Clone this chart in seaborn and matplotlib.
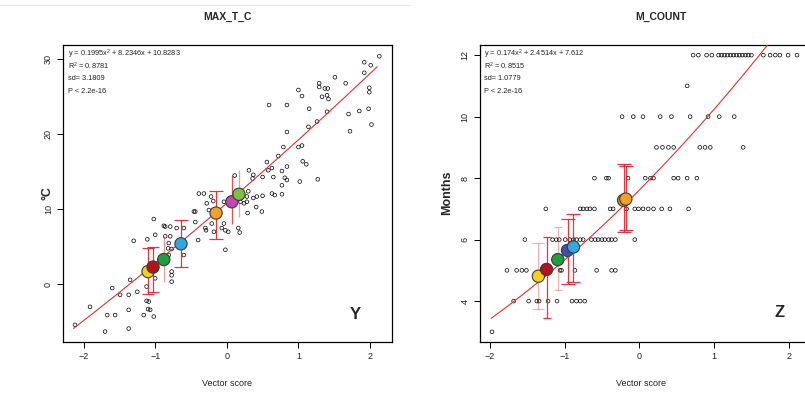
import numpy as np
import pandas as pd
import matplotlib
matplotlib.use("Agg")
import matplotlib.pyplot as plt
from matplotlib.lines import Line2D
import seaborn as sns

# ---------------- data: MAX_T_C panel ----------------
maxt_x = [-2.12, -1.70, -1.91, -1.37, -1.67, -1.56, -1.37, -1.16, -1.02, -1.07,
          -1.60, -1.49, -1.37, -1.35, -1.25, -1.09, -1.00, -0.77, -0.77, -1.02,
          -1.30, -1.11, -0.88, -0.86, -0.79, -0.70, -0.81, -0.77, -0.81, -0.44,
          -0.40, -0.60, -0.60, -0.02, -0.39, -0.32, -0.28, -0.25, -0.46, -0.44,
          -0.04, -0.07, -0.02, -0.18, -0.30, -0.22, -0.19, -0.29, -0.21, 0.02,
          -1.12, -1.12, -1.10, -1.00, -0.86, -0.79, -0.82, -0.77,
          2.13, 1.92, 2.01, 1.92, 1.51, 1.66, 1.29, 1.29, 1.37, 1.41,
          1.00, 1.99, 1.99, 1.05, 1.33, 1.40, 1.42, 0.59, 0.84, 1.15,
          1.40, 1.70, 1.85, 1.98, 1.26, 1.14, 2.02, 1.72, 0.84, 0.79,
          1.00, 1.05, 0.72, 0.56, 0.63, 0.58, 1.06, 1.11, 0.84, 0.77,
          0.50, 0.37, 0.36, 0.31, 0.65, 0.81, 0.84, 1.02, 1.27, 0.77,
          0.63, 0.67, 0.77, 0.50, 0.42, 0.37, 0.30, 0.28, 0.28, 0.41,
          0.49, 0.29, 0.11, 0.19, 0.24, -0.04, 0.16, 0.18]
maxt_y = [-5.4, -6.3, -3.0, -5.9, -4.1, -4.1, -3.4, -4.1, -4.3, -3.4,
          -0.5, -1.4, -1.4, 0.6, -1.0, -2.3, 0.8, 1.2, 0.35, 8.7,
          5.8, 6.0, 7.8, 6.4, 6.4, 7.5, 5.5, 4.7, 3.9, 8.3,
          5.9, 7.5, 3.9, 4.6, 12.1, 12.1, 10.8, 9.9, 9.7, 9.7,
          11.0, 7.5, 7.2, 7.0, 7.5, 11.7, 11.1, 7.2, 8.1, 7.0,
          -0.3, -2.2, -3.3, 6.6, 7.7, 7.7, 4.8, 1.7,
          30.4, 29.6, 29.2, 28.2, 27.6, 26.8, 26.8, 26.3, 26.1, 26.1,
          25.9, 26.2, 25.6, 25.1, 25.0, 25.2, 24.7, 23.9, 23.9, 23.4,
          23.0, 22.7, 23.1, 23.4, 21.7, 21.0, 21.3, 20.4, 20.3, 18.3,
          18.3, 18.5, 17.1, 16.3, 15.5, 15.2, 16.4, 16.0, 15.7, 15.1,
          14.3, 14.6, 14.1, 15.2, 14.3, 14.2, 13.9, 13.7, 14.0, 13.2,
          12.1, 11.9, 12.0, 11.8, 11.7, 11.5, 12.4, 11.7, 11.0, 10.3,
          9.7, 9.5, 14.5, 11.0, 10.8, 8.1, 7.5, 6.9]

maxt_coef = [0.1995, 8.2346, 10.8283]
maxt_fit_range = [-2.14, 2.10]

maxt_grp_x = [-1.10, -1.03, -0.88, -0.64, -0.15, 0.07, 0.17]
maxt_grp_y = [1.7, 2.3, 3.3, 5.4, 9.5, 11.0, 12.0]
maxt_err_lo = [-1.3, -1.0, 0.3, 2.3, 6.1, 8.0, 9.0]
maxt_err_hi = [4.8, 5.0, 6.4, 8.6, 12.4, 14.6, 15.2]
maxt_grp_colors = ["#F7D117", "#B5121B", "#1E9E3E", "#2FA8E0", "#F2A127", "#C048B5", "#7CC242"]

# ---------------- data: M_COUNT panel ----------------
mcount_x = [0.72, 0.79, 0.90, 0.97, 1.06, 1.10, 1.14, 1.18, 1.22, 1.26, 1.30, 1.34,
            1.38, 1.42, 1.46, 1.50, 1.66, 1.75, 1.82, 1.88, 1.99, 2.11,
            0.64,
            -0.23, -0.08, 0.05, 0.28, 0.43, 0.68, 0.92, 1.07, 1.27,
            0.23, 0.31, 0.39, 0.46, 0.81, 0.88, 0.95, 1.39,
            -0.60, -0.44, -0.41, -0.15, 0.08, 0.15, 0.19, 0.46, 0.52, 0.64, 0.77,
            -1.25, -0.79, -0.75, -0.70, -0.66, -0.60, -0.39, -0.35, -0.17, -0.06,
            -0.01, 0.05, 0.12, 0.19, 0.30, 0.41, 0.66,
            -1.53, -1.16, -1.11, -1.07, -0.99, -0.93, -0.88, -0.84, -0.79, -0.75,
            -0.64, -0.59, -0.55, -0.50, -0.46, -0.41, -0.37, -0.32, -0.06,
            -1.77, -1.64, -1.57, -1.51, -1.06, -1.04, -0.86, -0.57, -0.37, -0.32,
            -1.68, -1.48, -1.37, -1.34, -1.22, -1.10, -0.90, -0.84, -0.79, -0.73,
            -1.97]
mcount_y = ([12] * 22 + [11] + [10] * 9 + [9] * 8 + [8] * 11 + [7] * 17
            + [6] * 19 + [5] * 10 + [4] * 10 + [3])

mcount_coef = [0.174, 2.4514, 7.612]
mcount_fit_range = [-1.98, 1.80]

mcount_grp_x = [-1.35, -1.24, -1.09, -0.96, -0.88, -0.21, -0.18]
mcount_grp_y = [4.81, 5.03, 5.35, 5.65, 5.76, 7.28, 7.32]
mcount_err_lo = [3.75, 3.45, 4.35, 4.57, 4.62, 6.25, 6.30]
mcount_err_hi = [5.90, 6.10, 6.40, 6.68, 6.84, 8.46, 8.41]
mcount_grp_colors = ["#F7D117", "#B5121B", "#1E9E3E", "#3F4FB0", "#2FA8E0", "#E39420", "#F2A127"]

stats_left = ["y = 0.1995x$^2$ + 8.2346x + 10.8283", "R$^2$ = 0.8781", "sd= 3.1809", "P < 2.2e-16"]
stats_right = ["y = 0.174x$^2$ + 2.4514x + 7.612", "R$^2$ = 0.8515", "sd= 1.0779", "P < 2.2e-16"]

# ---------------- drawing ----------------
sns.set_theme(style="white")
plt.rcParams['font.family'] = ['Liberation Sans', 'DejaVu Sans']
plt.rcParams['mathtext.fontset'] = 'custom'
plt.rcParams['mathtext.rm'] = 'Liberation Sans'

W, H = 805, 394
fig = plt.figure(figsize=(W / 100, H / 100), dpi=100)
fig.add_artist(Line2D([0, 410 / W], [1 - 5 / H] * 2, color="#e4e4e4", lw=0.8))


def draw_panel(ax, xs, ys, coef, frange, gx, gy, lo, hi, cols, err_alpha, caps,
               xlim, ylim, yticks, stats, letter, letter_pos):
    df = pd.DataFrame({"x": xs, "y": ys})
    sns.scatterplot(data=df, x="x", y="y", ax=ax, s=7, color="black", linewidth=0.5,
                    zorder=2, legend=False)
    coll = ax.collections[-1]
    coll.set_facecolor("none")
    coll.set_edgecolor("black")

    fx = np.linspace(frange[0], frange[1], 200)
    fit = pd.DataFrame({"x": fx, "y": np.polyval(coef, fx)})
    sns.lineplot(data=fit, x="x", y="y", ax=ax, color="#e03030", lw=0.8, zorder=3)

    for i in range(len(gx)):
        ax.errorbar([gx[i]], [gy[i]],
                    yerr=[[gy[i] - lo[i]], [hi[i] - gy[i]]],
                    fmt="none", ecolor="#e0202a", alpha=err_alpha[i],
                    elinewidth=0.9, capsize=caps[i], capthick=0.9, zorder=4)

    gdf = pd.DataFrame({"x": gx, "y": gy, "g": [str(i) for i in range(len(gx))]})
    sns.scatterplot(data=gdf, x="x", y="y", hue="g", palette=cols, ax=ax, s=78,
                    edgecolor="#3a3a3a", linewidth=0.8, legend=False, zorder=5)

    ax.set_xlim(*xlim)
    ax.set_ylim(*ylim)
    ax.set_xticks([-2, -1, 0, 1, 2])
    ax.set_xticklabels(["\u22122", "\u22121", "0", "1", "2"])
    ax.set_yticks(yticks)
    ax.set_yticklabels([str(t) for t in yticks], rotation=90, va="center")
    ax.tick_params(axis="both", which="both", direction="out", length=4, width=0.7,
                   labelsize=6.5, color="black", labelcolor="#222222", pad=3,
                   bottom=True, left=True, top=False, right=False)
    ax.set_xlabel("")
    ax.set_ylabel("")
    for sp in ax.spines.values():
        sp.set_color("black")
        sp.set_linewidth(0.9)
        sp.set_visible(True)
    for k, line in enumerate(stats):
        ax.text(0.015, 0.968 - k * 0.041, line, transform=ax.transAxes,
                fontsize=5.3, va="center", ha="left", color="#222222")
    ax.text(letter_pos[0], letter_pos[1], letter, transform=ax.transAxes,
            fontsize=12, fontweight="bold", ha="center", va="center")


bot = (H - 342) / H
hgt = (342 - 45) / H
axL = fig.add_axes([62.6 / W, bot, (392 - 62.6) / W, hgt])
axR = fig.add_axes([479.5 / W, bot, (807.5 - 479.5) / W, hgt])

draw_panel(axL, maxt_x, maxt_y, maxt_coef, maxt_fit_range,
           maxt_grp_x, maxt_grp_y, maxt_err_lo, maxt_err_hi, maxt_grp_colors,
           [0.9, 0.9, 0.45, 0.9, 0.9, 0.8, 0.45], [4, 4, 0, 5, 5, 0, 0],
           (-2.293, 2.307), (-7.69, 31.9), [0, 10, 20, 30], stats_left,
           "Y", (0.888, 0.091))
draw_panel(axR, mcount_x, mcount_y, mcount_coef, mcount_fit_range,
           mcount_grp_x, mcount_grp_y, mcount_err_lo, mcount_err_hi, mcount_grp_colors,
           [0.35, 0.9, 0.35, 0.9, 0.9, 0.9, 0.9], [4, 3, 3, 5, 5, 5, 5],
           (-2.137, 2.25), (2.67, 12.33), [4, 6, 8, 10, 12], stats_right,
           "Z", (0.916, 0.098))

fig.text(227 / W, 1 - 17 / H, "MAX_T_C", ha="center", va="center", fontsize=7.5, fontweight="bold")
fig.text(661 / W, 1 - 17 / H, "M_COUNT", ha="center", va="center", fontsize=7.5, fontweight="bold")
fig.text(227 / W, 1 - 383 / H, "Vector score", ha="center", va="center", fontsize=6.5, color="#222222")
fig.text(641 / W, 1 - 383 / H, "Vector score", ha="center", va="center", fontsize=6.5, color="#222222")
fig.text(47 / W, 1 - 193 / H, "\u00b0C", ha="center", va="center", fontsize=9, fontweight="bold", rotation=90)
fig.text(447 / W, 1 - 193 / H, "Months", ha="center", va="center", fontsize=9, fontweight="bold", rotation=90)

fig.savefig("out.png", dpi=100)
